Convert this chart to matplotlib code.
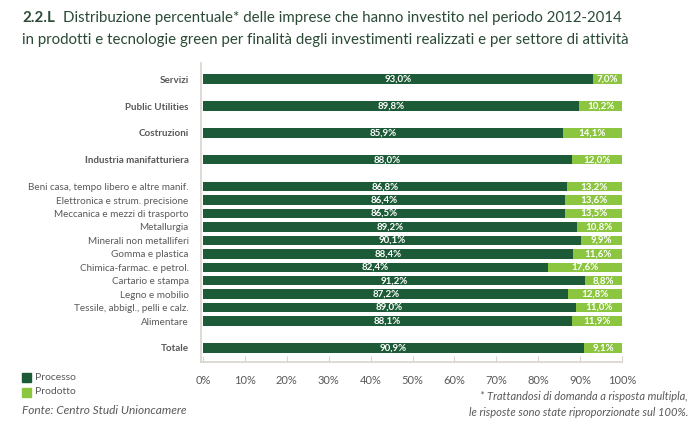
import numpy as np
import matplotlib.pyplot as plt
from matplotlib.patches import Rectangle

# data
sectors = ["Servizi", "Public Utilities", "Costruzioni", "Industria manifatturiera",
           "Beni casa, tempo libero e altre manif.", "Elettronica e strum. precisione",
           "Meccanica e mezzi di trasporto", "Metallurgia", "Minerali non metalliferi",
           "Gomma e plastica", "Chimica-farmac. e petrol.", "Cartario e stampa",
           "Legno e mobilio", "Tessile, abbigl., pelli e calz.", "Alimentare", "Totale"]
processo = [93.0, 89.8, 85.9, 88.0, 86.8, 86.4, 86.5, 89.2, 90.1, 88.4, 82.4, 91.2,
            87.2, 89.0, 88.1, 90.9]
prodotto = [7.0, 10.2, 14.1, 12.0, 13.2, 13.6, 13.5, 10.8, 9.9, 11.6, 17.6, 8.8,
            12.8, 11.0, 11.9, 9.1]
bold_rows = {"Servizi", "Public Utilities", "Costruzioni", "Industria manifatturiera", "Totale"}
row_pos = [0, 2, 4, 6, 8, 9, 10, 11, 12, 13, 14, 15, 16, 17, 18, 20]

DARK = "#1d5b38"
LIGHT = "#8cc540"
GREY = "#595959"
TITLE = "#2b4a36"

plt.rcParams['font.family'] = ['Lato', 'DejaVu Sans']

fig = plt.figure(figsize=(6.96, 4.26), dpi=100)
ax = fig.add_axes([201 / 696, 1 - 362 / 426, 421 / 696, 299 / 426])

y = np.array(row_pos)
ax.barh(y, processo, height=0.7, color=DARK)
ax.barh(y, prodotto, left=processo, height=0.7, color=LIGHT)

for yi, p, q in zip(y, processo, prodotto):
    ax.text(p / 2, yi, f"{p:.1f}%".replace(".", ","), ha="center", va="center",
            color="white", fontsize=7, fontweight="bold")
    ax.text(p + q / 2, yi, f"{q:.1f}%".replace(".", ","), ha="center", va="center",
            color="white", fontsize=7, fontweight="bold")

ax.set_xlim(-0.5, 100)
ax.set_ylim(21.05, -1.2)
ax.set_yticks(y)
ax.set_yticklabels(sectors)
for lab in ax.get_yticklabels():
    lab.set_fontsize(7.1)
    lab.set_color(GREY)
    if lab.get_text() in bold_rows:
        lab.set_fontweight("bold")
ax.tick_params(axis="y", length=0, pad=9)

ax.set_xticks(np.arange(0, 101, 10))
ax.set_xticklabels([f"{v}%" for v in range(0, 101, 10)], fontsize=8, color=GREY)
ax.tick_params(axis="x", direction="in", length=4, color="#d8d4cc", pad=9)

for s in ["top", "right"]:
    ax.spines[s].set_visible(False)
for s in ["left", "bottom"]:
    ax.spines[s].set_color("#d8d4cc")
    ax.spines[s].set_linewidth(1.2)

# title
fig.text(22 / 696, 1 - 18 / 426, "2.2.L", fontsize=10.8, fontweight="bold", color=TITLE,
         va="center")
fig.text(63 / 696, 1 - 18 / 426,
         "Distribuzione percentuale* delle imprese che hanno investito nel periodo 2012-2014",
         fontsize=10.8, color=TITLE, va="center")
fig.text(22 / 696, 1 - 40 / 426,
         "in prodotti e tecnologie green per finalità degli investimenti realizzati e per settore di attività",
         fontsize=10.8, color=TITLE, va="center")

# legend
for i, (name, col) in enumerate([("Processo", DARK), ("Prodotto", LIGHT)]):
    yy = 1 - (377 + i * 15) / 426
    fig.patches.append(Rectangle((22 / 696, yy - 4.5 / 426), 9 / 696, 9 / 426,
                                 transform=fig.transFigure, color=col))
    fig.text(35 / 696, yy, name, fontsize=7.5, color=GREY, va="center")

fig.text(22 / 696, 1 - 411 / 426, "Fonte: Centro Studi Unioncamere", fontsize=8.6,
         style="italic", color=GREY, va="center")
fig.text(688 / 696, 1 - 397 / 426, "* Trattandosi di domanda a risposta multipla,",
         fontsize=8, style="italic", color=GREY, va="center", ha="right")
fig.text(688 / 696, 1 - 412 / 426, "le risposte sono state riproporzionate sul 100%.",
         fontsize=8, style="italic", color=GREY, va="center", ha="right")

fig.savefig("out.png", dpi=100)
